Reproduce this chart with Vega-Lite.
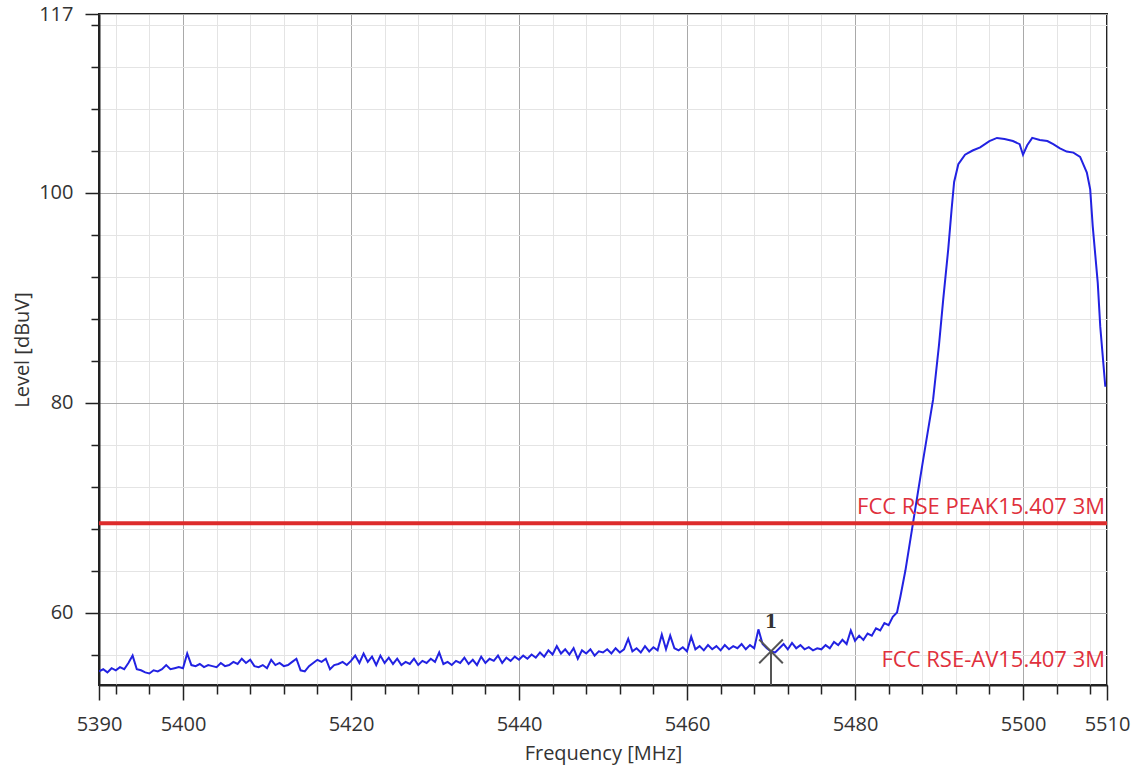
{
  "$schema": "https://vega.github.io/schema/vega-lite/v6.json",
  "width": 1008,
  "height": 671,
  "autosize": {"type": "none"},
  "padding": {"left": 99, "top": 14, "right": 31, "bottom": 86},
  "background": "white",
  "config": {
    "view": {"stroke": "#222", "strokeWidth": 2},
    "font": "Open Sans"
  },
  "resolve": {"axis": {"x": "independent", "y": "independent"}},
  "datasets": {
    "trace": [
      {"f":5390.0,"v":54.4},{"f":5390.5,"v":54.6},{"f":5391.0,"v":54.3},{"f":5391.5,"v":54.7},{"f":5392.0,"v":54.5},{"f":5392.5,"v":54.8},{"f":5393.0,"v":54.6},{"f":5393.5,"v":55.2},{"f":5394.0,"v":55.9},{"f":5394.5,"v":54.6},
      {"f":5395.0,"v":54.5},{"f":5395.5,"v":54.3},{"f":5396.0,"v":54.2},{"f":5396.5,"v":54.5},{"f":5397.0,"v":54.4},{"f":5397.5,"v":54.6},{"f":5398.0,"v":55.0},{"f":5398.5,"v":54.6},{"f":5399.0,"v":54.7},{"f":5399.5,"v":54.8},
      {"f":5400.0,"v":54.7},{"f":5400.5,"v":56.1},{"f":5401.0,"v":55.0},{"f":5401.5,"v":54.9},{"f":5402.0,"v":55.1},{"f":5402.5,"v":54.8},{"f":5403.0,"v":55.0},{"f":5403.5,"v":54.9},{"f":5404.0,"v":54.8},{"f":5404.5,"v":55.2},
      {"f":5405.0,"v":54.9},{"f":5405.5,"v":55.0},{"f":5406.0,"v":55.3},{"f":5406.5,"v":55.1},{"f":5407.0,"v":55.6},{"f":5407.5,"v":55.2},{"f":5408.0,"v":55.5},{"f":5408.5,"v":54.9},{"f":5409.0,"v":54.8},{"f":5409.5,"v":55.0},
      {"f":5410.0,"v":54.7},{"f":5410.5,"v":55.5},{"f":5411.0,"v":55.0},{"f":5411.5,"v":55.2},{"f":5412.0,"v":54.9},{"f":5412.5,"v":55.0},{"f":5413.0,"v":55.3},{"f":5413.5,"v":55.6},{"f":5414.0,"v":54.5},{"f":5414.5,"v":54.4},
      {"f":5415.0,"v":54.9},{"f":5415.5,"v":55.2},{"f":5416.0,"v":55.5},{"f":5416.5,"v":55.3},{"f":5417.0,"v":55.6},{"f":5417.5,"v":54.6},{"f":5418.0,"v":55.0},{"f":5418.5,"v":55.1},{"f":5419.0,"v":55.3},{"f":5419.5,"v":55.0},
      {"f":5420.0,"v":55.4},{"f":5420.5,"v":55.9},{"f":5421.0,"v":55.2},{"f":5421.5,"v":56.1},{"f":5422.0,"v":55.3},{"f":5422.5,"v":55.8},{"f":5423.0,"v":55.0},{"f":5423.5,"v":55.9},{"f":5424.0,"v":55.2},{"f":5424.5,"v":55.7},
      {"f":5425.0,"v":55.1},{"f":5425.5,"v":55.6},{"f":5426.0,"v":55.0},{"f":5426.5,"v":55.3},{"f":5427.0,"v":55.1},{"f":5427.5,"v":55.6},{"f":5428.0,"v":55.0},{"f":5428.5,"v":55.4},{"f":5429.0,"v":55.2},{"f":5429.5,"v":55.6},
      {"f":5430.0,"v":55.3},{"f":5430.5,"v":56.2},{"f":5431.0,"v":55.1},{"f":5431.5,"v":55.3},{"f":5432.0,"v":55.0},{"f":5432.5,"v":55.4},{"f":5433.0,"v":55.2},{"f":5433.5,"v":55.7},{"f":5434.0,"v":55.1},{"f":5434.5,"v":55.5},
      {"f":5435.0,"v":55.0},{"f":5435.5,"v":55.8},{"f":5436.0,"v":55.2},{"f":5436.5,"v":55.6},{"f":5437.0,"v":55.4},{"f":5437.5,"v":55.9},{"f":5438.0,"v":55.2},{"f":5438.5,"v":55.7},{"f":5439.0,"v":55.4},{"f":5439.5,"v":55.8},
      {"f":5440.0,"v":55.5},{"f":5440.5,"v":55.9},{"f":5441.0,"v":55.6},{"f":5441.5,"v":56.0},{"f":5442.0,"v":55.7},{"f":5442.5,"v":56.2},{"f":5443.0,"v":55.8},{"f":5443.5,"v":56.4},{"f":5444.0,"v":56.0},{"f":5444.5,"v":56.8},
      {"f":5445.0,"v":56.1},{"f":5445.5,"v":56.5},{"f":5446.0,"v":56.0},{"f":5446.5,"v":56.6},{"f":5447.0,"v":55.6},{"f":5447.5,"v":56.4},{"f":5448.0,"v":56.1},{"f":5448.5,"v":56.5},{"f":5449.0,"v":55.9},{"f":5449.5,"v":56.3},
      {"f":5450.0,"v":56.2},{"f":5450.5,"v":56.5},{"f":5451.0,"v":56.1},{"f":5451.5,"v":56.6},{"f":5452.0,"v":56.2},{"f":5452.5,"v":56.5},{"f":5453.0,"v":57.5},{"f":5453.5,"v":56.3},{"f":5454.0,"v":56.6},{"f":5454.5,"v":56.2},
      {"f":5455.0,"v":56.8},{"f":5455.5,"v":56.3},{"f":5456.0,"v":56.7},{"f":5456.5,"v":56.4},{"f":5457.0,"v":57.9},{"f":5457.5,"v":56.5},{"f":5458.0,"v":57.8},{"f":5458.5,"v":56.6},{"f":5459.0,"v":56.4},{"f":5459.5,"v":56.7},
      {"f":5460.0,"v":56.3},{"f":5460.5,"v":57.7},{"f":5461.0,"v":56.5},{"f":5461.5,"v":56.8},{"f":5462.0,"v":56.4},{"f":5462.5,"v":56.9},{"f":5463.0,"v":56.5},{"f":5463.5,"v":56.8},{"f":5464.0,"v":56.4},{"f":5464.5,"v":56.9},
      {"f":5465.0,"v":56.5},{"f":5465.5,"v":56.8},{"f":5466.0,"v":56.6},{"f":5466.5,"v":57.0},{"f":5467.0,"v":56.5},{"f":5467.5,"v":56.9},{"f":5468.0,"v":56.6},{"f":5468.5,"v":58.4},{"f":5469.0,"v":57.0},{"f":5469.5,"v":56.6},
      {"f":5470.0,"v":56.3},{"f":5470.5,"v":56.2},{"f":5471.0,"v":56.6},{"f":5471.5,"v":57.0},{"f":5472.0,"v":56.5},{"f":5472.5,"v":57.1},{"f":5473.0,"v":56.6},{"f":5473.5,"v":56.9},{"f":5474.0,"v":56.5},{"f":5474.5,"v":56.7},
      {"f":5475.0,"v":56.4},{"f":5475.5,"v":56.6},{"f":5476.0,"v":56.5},{"f":5476.5,"v":56.9},{"f":5477.0,"v":56.6},{"f":5477.5,"v":57.2},{"f":5478.0,"v":56.9},{"f":5478.5,"v":57.4},{"f":5479.0,"v":57.0},{"f":5479.5,"v":58.3},
      {"f":5480.0,"v":57.3},{"f":5480.5,"v":57.8},{"f":5481.0,"v":57.4},{"f":5481.5,"v":58.0},{"f":5482.0,"v":57.8},{"f":5482.5,"v":58.5},{"f":5483.0,"v":58.3},{"f":5483.5,"v":59.0},{"f":5484.0,"v":58.8},{"f":5484.5,"v":59.6},
      {"f":5485.0,"v":60.0},{"f":5485.4,"v":61.5},{"f":5486.0,"v":64.0},{"f":5486.9,"v":68.5},{"f":5488.0,"v":74.0},{"f":5489.3,"v":80.3},{"f":5490.0,"v":85.5},{"f":5490.5,"v":89.8},{"f":5491.1,"v":94.6},{"f":5491.5,"v":98.4},
      {"f":5491.8,"v":101.0},{"f":5492.3,"v":102.7},{"f":5493.1,"v":103.6},{"f":5494.0,"v":104.0},{"f":5494.9,"v":104.3},{"f":5496.0,"v":104.9},{"f":5496.9,"v":105.2},{"f":5497.8,"v":105.1},{"f":5498.8,"v":104.9},{"f":5499.6,"v":104.6},
      {"f":5500.0,"v":103.6},{"f":5500.5,"v":104.5},{"f":5501.1,"v":105.2},{"f":5502.0,"v":105.0},{"f":5502.9,"v":104.9},{"f":5503.6,"v":104.6},{"f":5504.4,"v":104.2},{"f":5505.2,"v":103.9},{"f":5506.0,"v":103.8},{"f":5506.8,"v":103.4},
      {"f":5507.6,"v":101.9},{"f":5508.0,"v":100.3},{"f":5508.3,"v":96.8},{"f":5508.9,"v":91.4},{"f":5509.2,"v":87.2},{"f":5509.8,"v":81.5}
    ],
    "limits": [
      {"name": "FCC RSE PEAK15.407 3M", "f": 5510, "v": 68.5, "line": true},
      {"name": "FCC RSE-AV15.407 3M", "f": 5510, "v": 54.0, "line": false}
    ],
    "markers": [
      {"label": "1", "f": 5470, "v": 56.3, "floor": 53.1}
    ]
  },
  "layer": [
    {
      "data": {"name": "trace"},
      "mark": {"type": "point", "opacity": 0},
      "encoding": {
        "x": {
          "field": "f", "type": "quantitative",
          "scale": {"domain": [5390, 5510], "nice": false, "zero": false},
          "axis": {
            "orient": "bottom",
            "title": null,
            "labels": false,
            "domain": false,
            "values": [5392,5396,5404,5408,5412,5416,5424,5428,5432,5436,5444,5448,5452,5456,5464,5468,5472,5476,5484,5488,5492,5496,5504,5508],
            "tickColor": "#222",
            "tickWidth": 1.5,
            "tickSize": 9,
            "grid": true,
            "gridColor": "#e4e4e4",
            "gridWidth": 1
          }
        },
        "y": {
          "field": "v", "type": "quantitative",
          "scale": {"domain": [53.1, 117], "nice": false, "zero": false},
          "axis": {
            "orient": "left",
            "title": null,
            "labels": false,
            "domain": false,
            "values": [56,64,68,72,76,84,88,92,96,104,108,112,116],
            "tickColor": "#222",
            "tickWidth": 1.5,
            "tickSize": 8,
            "grid": true,
            "gridColor": "#e4e4e4",
            "gridWidth": 1
          }
        }
      }
    },
    {
      "data": {"name": "trace"},
      "mark": {"type": "line", "color": "#2222e2", "strokeWidth": 2, "clip": true},
      "encoding": {
        "x": {
          "field": "f", "type": "quantitative",
          "axis": {
            "orient": "bottom",
            "title": "Frequency [MHz]",
            "values": [5390,5400,5420,5440,5460,5480,5500,5510],
            "format": "d",
            "labelFlush": false,
            "labelOverlap": false,
            "labelFontSize": 20,
            "labelColor": "#333",
            "labelPadding": 14,
            "titleFontSize": 20,
            "titleFontWeight": "normal",
            "titleColor": "#333",
            "titlePadding": 9,
            "domainColor": "#222",
            "domainWidth": 2,
            "tickColor": "#222",
            "tickWidth": 1.5,
            "tickSize": 15,
            "grid": true,
            "gridColor": "#a9a9a9",
            "gridWidth": 1
          }
        },
        "y": {
          "field": "v", "type": "quantitative",
          "axis": {
            "orient": "left",
            "title": "Level [dBuV]",
            "values": [60,80,100,117],
            "format": "d",
            "labelOverlap": false,
            "labelFlush": false,
            "labelFontSize": 20,
            "labelColor": "#333",
            "labelPadding": 12,
            "titleFontSize": 20,
            "titleFontWeight": "normal",
            "titleColor": "#333",
            "titlePadding": 6,
            "domainColor": "#222",
            "domainWidth": 2,
            "tickColor": "#222",
            "tickWidth": 1.5,
            "tickSize": 14,
            "grid": true,
            "gridColor": "#a9a9a9",
            "gridWidth": 1
          }
        }
      }
    },
    {
      "data": {"name": "limits"},
      "transform": [{"filter": "datum.line"}],
      "mark": {"type": "rule", "color": "#dd2b2b", "strokeWidth": 4},
      "encoding": {
        "y": {"field": "v", "type": "quantitative", "axis": null}
      }
    },
    {
      "data": {"name": "limits"},
      "mark": {"type": "text", "align": "right", "baseline": "bottom", "dx": -2, "dy": -4, "fontSize": 22, "color": "#e0303c"},
      "encoding": {
        "x": {"field": "f", "type": "quantitative", "axis": null},
        "y": {"field": "v", "type": "quantitative", "axis": null},
        "text": {"field": "name"}
      }
    },
    {
      "data": {"name": "markers"},
      "mark": {"type": "rule", "color": "#555", "strokeWidth": 2},
      "encoding": {
        "x": {"field": "f", "type": "quantitative", "axis": null},
        "y": {"field": "v", "type": "quantitative", "axis": null},
        "y2": {"field": "floor"}
      }
    },
    {
      "data": {"name": "markers"},
      "mark": {"type": "point", "shape": "M-1,-1L1,1M1,-1L-1,1", "filled": false, "color": "#555", "strokeWidth": 2, "size": 560, "opacity": 1},
      "encoding": {
        "x": {"field": "f", "type": "quantitative", "axis": null},
        "y": {"field": "v", "type": "quantitative", "axis": null}
      }
    },
    {
      "data": {"name": "markers"},
      "mark": {"type": "text", "dy": -28, "fontSize": 18, "fontWeight": "bold", "color": "#333", "font": "DejaVu Serif"},
      "encoding": {
        "x": {"field": "f", "type": "quantitative", "axis": null},
        "y": {"field": "v", "type": "quantitative", "axis": null},
        "text": {"field": "label"}
      }
    }
  ]
}
